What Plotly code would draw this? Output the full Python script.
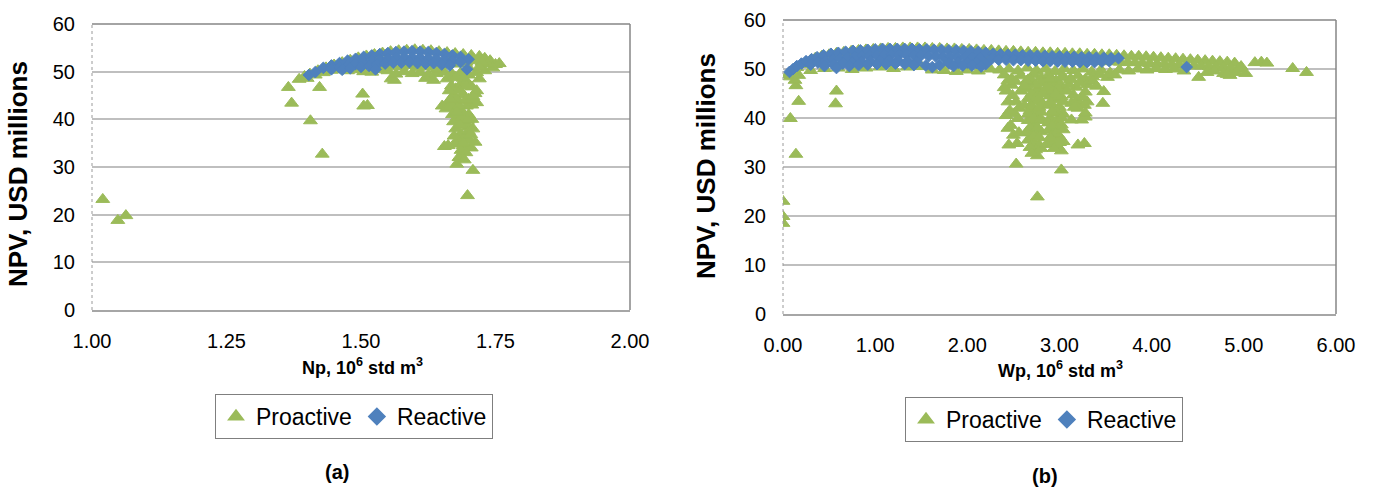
import plotly.graph_objects as go

# ---------------- Data: panel (a)  Np (10^6 std m3) vs NPV (USD millions) ----------------
proactive_a = [
    (1.020, 23.2), (1.048, 18.8), (1.063, 19.8), (1.365, 46.7), (1.371, 43.4), (1.406, 39.7),
    (1.423, 46.7), (1.428, 32.7), (1.503, 45.3), (1.505, 42.8), (1.512, 42.9), (1.562, 48.2),
    (1.556, 48.5),
    (1.385, 48.4), (1.395, 49.0), (1.405, 49.5), (1.420, 50.2), (1.435, 50.8), (1.450, 51.4),
    (1.465, 51.9), (1.480, 52.4), (1.495, 52.9), (1.510, 53.3), (1.525, 53.6), (1.540, 53.9),
    (1.555, 54.2), (1.570, 54.4), (1.585, 54.5), (1.600, 54.6), (1.615, 54.5), (1.630, 54.4),
    (1.645, 54.2), (1.660, 54.0), (1.675, 53.8), (1.690, 53.6), (1.705, 53.4), (1.720, 53.2),
    (1.730, 52.8), (1.740, 52.3), (1.750, 51.5), (1.757, 51.7),
    (1.400, 48.6), (1.415, 49.3), (1.430, 49.8), (1.445, 50.3), (1.460, 50.5), (1.475, 50.2),
    (1.490, 50.4), (1.505, 50.0), (1.520, 49.9), (1.535, 50.4), (1.550, 50.2), (1.565, 49.5),
    (1.580, 50.0), (1.595, 49.6), (1.610, 49.8), (1.625, 49.3), (1.640, 49.6), (1.655, 49.9),
    (1.670, 49.4), (1.685, 49.7), (1.700, 49.3), (1.715, 49.8), (1.730, 50.2), (1.745, 50.8),
    (1.735, 51.6), (1.725, 52.0), (1.710, 52.3), (1.695, 52.0), (1.680, 51.6), (1.665, 52.1),
    (1.650, 51.5), (1.635, 51.2), (1.620, 51.0), (1.605, 50.9), (1.590, 51.3), (1.575, 51.0),
    (1.560, 51.1), (1.545, 51.4), (1.530, 51.2), (1.515, 51.5), (1.500, 51.3), (1.620, 48.6),
    (1.635, 48.2), (1.640, 50.5), (1.700, 50.8), (1.720, 51.0),
    (1.660, 48.5), (1.668, 47.0), (1.676, 46.4), (1.686, 47.4), (1.696, 48.0), (1.706, 46.8),
    (1.712, 45.4), (1.700, 44.2), (1.690, 45.2), (1.680, 44.0), (1.672, 45.0), (1.664, 43.5),
    (1.651, 42.8), (1.658, 42.2), (1.676, 42.5), (1.686, 41.8), (1.696, 42.8), (1.706, 43.0),
    (1.715, 43.5), (1.700, 41.0), (1.680, 40.2), (1.672, 39.5), (1.690, 39.0), (1.700, 38.5),
    (1.706, 40.0), (1.676, 38.0), (1.686, 37.0), (1.695, 36.5), (1.700, 35.5), (1.680, 35.8),
    (1.690, 34.5), (1.705, 34.0), (1.712, 35.2), (1.676, 34.8), (1.686, 33.5), (1.695, 33.0),
    (1.655, 34.3), (1.662, 34.5), (1.682, 32.0), (1.678, 30.6), (1.708, 29.3), (1.698, 24.0),
    (1.668, 43.0), (1.664, 46.0), (1.690, 48.6), (1.676, 48.8), (1.700, 37.5), (1.682, 42.8),
    (1.715, 46.0), (1.720, 48.5), (1.670, 41.0), (1.688, 40.5), (1.673, 36.5), (1.708, 38.0),
    (1.692, 31.5), (1.684, 46.0), (1.694, 44.0), (1.678, 41.5), (1.698, 39.8), (1.684, 38.8),
    (1.704, 36.8), (1.690, 35.0), (1.708, 44.8), (1.666, 44.2), (1.696, 47.0),
]

reactive_a = [
    (1.403, 49.3), (1.415, 49.9), (1.430, 50.8), (1.445, 51.3), (1.460, 51.8), (1.475, 52.3),
    (1.490, 52.7), (1.505, 53.1), (1.520, 53.4), (1.535, 53.7), (1.550, 53.9), (1.565, 54.1),
    (1.580, 54.2), (1.595, 54.3), (1.610, 54.2), (1.625, 54.1), (1.640, 53.9), (1.655, 53.7),
    (1.670, 53.4), (1.685, 53.1), (1.700, 52.6),
    (1.445, 50.5), (1.460, 50.9), (1.475, 51.3), (1.490, 51.6), (1.505, 52.0), (1.520, 52.3),
    (1.535, 52.5), (1.550, 52.7), (1.565, 52.9), (1.580, 53.0), (1.595, 53.0), (1.610, 52.9),
    (1.625, 52.8), (1.640, 52.6), (1.655, 52.4), (1.670, 52.2), (1.685, 52.0),
    (1.465, 50.4), (1.480, 50.7), (1.500, 51.0), (1.515, 51.2), (1.530, 51.5), (1.545, 51.7),
    (1.560, 51.9), (1.575, 51.9), (1.590, 52.0), (1.605, 51.8), (1.620, 51.7), (1.635, 51.8),
    (1.650, 51.5), (1.665, 51.3),
    (1.527, 50.5), (1.697, 50.5),
]

# ---------------- Data: panel (b)  Wp (10^6 std m3) vs NPV (USD millions) ----------------
proactive_b = [
    (0.00, 23.0), (0.00, 19.9), (0.00, 18.5), (0.08, 39.9), (0.14, 32.6), (0.17, 43.4),
    (0.14, 46.6), (0.13, 47.7), (0.17, 48.7), (0.08, 48.4), (0.58, 45.5), (0.57, 42.9),
    (0.05, 48.8), (0.10, 49.6), (0.15, 50.3), (0.20, 50.9), (0.25, 51.4), (0.30, 51.8),
    (0.35, 52.2), (0.42, 52.6), (0.50, 52.9), (0.58, 53.2), (0.66, 53.4), (0.74, 53.6),
    (0.82, 53.8), (0.90, 53.9), (0.98, 54.0), (1.06, 54.1), (1.14, 54.2), (1.22, 54.2),
    (1.30, 54.3), (1.38, 54.3), (1.46, 54.3), (1.54, 54.3), (1.62, 54.2), (1.70, 54.2),
    (1.78, 54.1), (1.86, 54.1), (1.94, 54.0), (2.02, 54.0), (2.10, 53.9), (2.18, 53.8),
    (2.26, 53.8), (2.34, 53.7), (2.42, 53.6), (2.50, 53.6), (2.58, 53.5), (2.66, 53.4),
    (2.74, 53.4), (2.82, 53.3), (2.90, 53.3), (2.98, 53.2), (3.06, 53.2), (3.14, 53.1),
    (3.22, 53.1), (3.30, 53.0), (3.38, 53.0), (3.46, 52.9), (3.54, 52.9), (3.62, 52.8),
    (3.70, 52.7), (3.78, 52.6), (3.86, 52.6), (3.94, 52.5), (4.02, 52.4), (4.10, 52.3),
    (4.18, 52.2), (4.26, 52.1), (4.34, 52.0), (4.42, 51.9), (4.50, 51.8), (4.58, 51.7),
    (4.66, 51.6), (4.74, 51.5), (4.82, 51.4), (4.90, 51.2), (4.97, 50.5),
    (2.22, 52.5), (2.30, 52.4), (2.38, 52.3), (2.46, 52.2), (2.54, 52.1), (2.62, 52.0),
    (2.70, 52.0), (2.78, 51.9), (2.86, 51.9), (2.94, 51.8), (3.02, 51.8), (3.10, 51.7),
    (3.18, 51.7), (3.26, 51.6), (3.34, 51.6), (3.42, 51.5), (3.50, 51.5), (3.58, 51.5),
    (3.66, 51.4), (3.74, 51.3), (3.82, 51.3), (3.90, 51.2), (3.98, 51.1), (4.06, 51.0),
    (4.14, 51.0), (4.22, 50.9), (4.30, 50.8), (4.38, 50.7), (4.46, 50.6), (4.54, 50.6),
    (4.62, 50.5), (4.70, 50.4), (4.78, 50.3), (4.86, 50.2), (4.94, 50.0),
    (0.30, 49.7), (0.45, 50.1), (0.60, 50.2), (0.75, 49.9), (0.90, 50.2), (1.05, 50.4),
    (1.20, 50.1), (1.35, 50.4), (1.50, 50.5), (1.62, 49.8), (1.75, 49.7), (1.88, 49.5),
    (2.00, 49.8), (2.12, 49.6), (2.25, 50.0), (2.35, 49.8), (2.45, 50.0), (2.55, 49.6),
    (2.65, 50.2), (2.75, 49.7), (2.85, 50.0), (2.95, 49.5), (3.05, 50.1), (3.15, 49.7),
    (3.25, 50.0), (3.35, 49.4), (3.45, 49.8), (3.55, 49.2), (3.65, 49.8), (3.75, 49.6),
    (3.85, 50.0), (3.95, 49.8), (4.05, 50.1), (4.15, 49.9), (4.25, 50.0), (4.35, 49.6),
    (4.51, 48.3), (4.60, 49.3), (4.68, 49.6), (4.78, 49.1), (4.85, 48.7), (4.82, 48.9),
    (4.92, 49.3), (5.02, 49.1),
    (2.40, 48.8), (2.48, 48.0), (2.58, 48.6), (2.66, 47.8), (2.72, 48.9), (2.80, 48.2),
    (2.88, 48.8), (2.96, 47.6), (3.04, 48.5), (3.12, 48.0), (3.20, 48.6), (3.28, 47.9),
    (3.36, 48.4), (3.44, 48.9), (3.52, 48.3), (3.60, 48.8),
    (5.12, 51.3), (5.19, 51.4), (5.25, 51.2), (5.53, 50.1), (5.68, 49.3),
    (2.48, 46.7), (2.52, 47.5), (2.44, 43.3), (2.53, 43.3), (2.49, 44.6), (2.51, 40.9),
    (2.55, 39.9), (2.44, 37.9), (2.47, 38.5), (2.45, 34.5), (2.54, 34.8), (2.53, 30.6),
    (2.56, 42.0), (2.58, 45.5), (2.42, 45.5), (2.46, 41.5), (2.50, 36.5), (2.56, 37.0),
    (2.42, 40.5), (2.44, 47.6), (2.40, 46.2),
    (2.64, 46.0), (2.70, 47.0), (2.76, 45.8), (2.80, 47.2), (2.66, 44.0), (2.72, 43.3),
    (2.78, 43.8), (2.82, 42.8), (2.68, 41.5), (2.74, 40.8), (2.80, 41.2), (2.66, 39.5),
    (2.72, 38.8), (2.78, 39.5), (2.70, 37.0), (2.76, 36.2), (2.80, 37.2), (2.66, 35.5),
    (2.72, 35.0), (2.78, 34.5), (2.74, 33.5), (2.76, 32.3), (2.76, 23.9), (2.62, 42.5),
    (2.84, 45.5), (2.68, 48.0), (2.74, 46.8), (2.64, 47.5), (2.70, 45.0), (2.76, 44.5),
    (2.82, 45.0), (2.70, 42.3), (2.78, 42.2), (2.66, 40.8), (2.72, 40.0), (2.80, 39.8),
    (2.68, 38.0), (2.76, 38.0), (2.64, 37.0), (2.72, 36.3), (2.78, 36.0), (2.68, 34.0),
    (2.80, 33.8), (2.70, 32.8), (2.62, 46.5),
    (2.88, 47.2), (2.94, 46.5), (3.00, 47.0), (3.04, 45.8), (2.90, 44.5), (2.96, 43.8),
    (3.02, 44.3), (2.88, 42.6), (2.94, 41.8), (3.00, 42.2), (3.04, 40.8), (2.90, 40.0),
    (2.96, 39.3), (3.02, 38.6), (2.88, 37.5), (2.94, 36.8), (3.00, 36.2), (3.04, 35.2),
    (2.92, 35.0), (2.98, 34.2), (3.02, 33.3), (2.86, 34.6), (3.02, 29.4), (2.90, 48.0),
    (2.98, 46.0), (3.02, 48.3), (2.92, 45.5), (2.96, 45.0), (3.04, 43.3), (2.90, 43.2),
    (2.98, 41.0), (2.92, 41.2), (3.02, 40.0), (2.88, 39.0), (2.98, 38.0), (2.92, 38.3),
    (2.96, 36.8), (3.04, 37.6), (2.90, 36.0), (3.00, 35.0), (2.94, 33.8), (2.86, 46.2),
    (3.13, 43.0), (3.18, 43.4), (3.22, 43.0), (3.27, 42.6), (3.30, 43.3), (3.15, 44.7),
    (3.25, 44.3), (3.13, 39.6), (3.24, 39.6), (3.28, 40.2), (3.20, 34.5), (3.27, 34.8),
    (3.18, 46.3), (3.10, 46.8), (3.48, 45.4), (3.47, 43.0), (3.20, 42.0), (3.28, 41.0),
    (3.16, 42.2), (3.08, 45.5), (3.12, 47.8), (3.22, 47.2), (3.30, 46.8), (3.36, 47.5),
    (3.40, 46.5), (3.28, 45.3),
]

reactive_b = [
    (0.07, 49.4), (0.11, 50.0), (0.15, 50.6), (0.20, 51.1), (0.25, 51.6), (0.31, 52.0),
    (0.37, 52.4), (0.44, 52.8), (0.52, 53.1), (0.60, 53.3), (0.68, 53.5), (0.76, 53.7),
    (0.84, 53.8), (0.92, 53.9), (1.00, 54.0), (1.08, 54.1), (1.16, 54.1), (1.24, 54.1),
    (1.32, 54.1), (1.40, 54.1), (1.48, 54.0), (1.56, 54.0), (1.64, 53.9), (1.72, 53.9),
    (1.80, 53.8), (1.88, 53.8), (1.96, 53.7), (2.04, 53.6), (2.12, 53.5), (2.20, 53.3),
    (2.28, 53.1), (2.36, 53.0), (2.44, 52.9), (2.52, 52.9), (2.60, 52.8), (2.68, 52.8),
    (2.76, 52.7), (2.84, 52.7), (2.92, 52.6), (3.00, 52.6), (3.08, 52.5), (3.16, 52.5),
    (3.24, 52.4), (3.32, 52.4), (3.40, 52.3), (3.48, 52.3), (3.56, 52.2), (3.64, 52.2),
    (0.30, 50.9), (0.38, 51.3), (0.46, 51.6), (0.54, 51.9), (0.62, 52.1), (0.70, 52.3),
    (0.78, 52.5), (0.86, 52.6), (0.94, 52.7), (1.02, 52.8), (1.10, 52.9), (1.18, 52.9),
    (1.26, 52.9), (1.34, 52.9), (1.42, 52.8), (1.50, 52.8), (1.58, 52.6), (1.66, 52.5),
    (1.74, 52.5), (1.82, 52.5), (1.90, 52.4), (1.98, 52.4), (2.06, 52.3), (2.14, 52.2),
    (2.26, 52.0), (2.34, 51.9), (2.42, 51.9), (2.50, 51.8), (2.58, 51.8), (2.66, 51.7),
    (2.74, 51.7), (2.82, 51.6), (2.90, 51.6), (2.98, 51.5), (3.06, 51.5), (3.14, 51.5),
    (3.22, 51.4), (3.30, 51.4), (3.38, 51.4), (3.46, 51.5), (3.54, 51.6),
    (0.45, 50.6), (0.55, 50.9), (0.65, 51.1), (0.75, 51.3), (0.85, 51.5), (0.95, 51.6),
    (1.05, 51.6), (1.15, 51.7), (1.25, 51.7), (1.35, 51.6), (1.45, 51.4), (1.55, 50.7),
    (1.62, 50.4), (1.70, 50.8), (1.80, 51.2), (1.90, 51.3), (2.00, 51.3), (2.10, 51.2),
    (2.20, 51.0), (0.58, 50.2),
    (0.72, 50.6), (0.82, 50.8), (0.92, 50.9), (1.02, 51.0), (1.12, 51.0), (1.22, 51.1),
    (1.32, 51.0), (1.42, 50.8), (1.85, 50.6), (1.95, 50.7), (2.05, 50.7), (2.15, 50.5),
    (4.38, 50.4),
]

series_names = ["Proactive", "Reactive"]
y_ticks = [0, 10, 20, 30, 40, 50, 60]
x_ticks_a = [1.00, 1.25, 1.50, 1.75, 2.00]
x_ticks_b = [0, 1, 2, 3, 4, 5, 6]

GREEN = "#9BBB59"
BLUE = "#4F81BD"
FONT = "Liberation Sans, Arial, sans-serif"


def unzip(pairs):
    return [p[0] for p in pairs], [p[1] for p in pairs]


fig = go.Figure()

for pairs, name, color, symbol, size, xa, ya, lg in [
    (proactive_a, series_names[0], GREEN, "triangle-up", 12, "x", "y", "legend"),
    (reactive_a, series_names[1], BLUE, "diamond", 9, "x", "y", "legend"),
    (proactive_b, series_names[0], GREEN, "triangle-up", 12, "x2", "y2", "legend2"),
    (reactive_b, series_names[1], BLUE, "diamond", 9, "x2", "y2", "legend2"),
]:
    xs, ys = unzip(pairs)
    fig.add_trace(go.Scatter(
        x=xs, y=ys, mode="markers", name=name,
        marker=dict(symbol=symbol, size=size, color=color, line=dict(width=1, color=color)),
        xaxis=xa, yaxis=ya, legend=lg, showlegend=True,
    ))

W, H = 1373, 488
# plot-area pixel boxes (left, right, top, bottom)
box_a = (92, 630, 24, 310)
box_b = (783, 1336, 20, 314)


def dom(box):
    l, r, t, b = box
    return [l / W, r / W], [1 - b / H, 1 - t / H]


xd_a, yd_a = dom(box_a)
xd_b, yd_b = dom(box_b)

tickfont = dict(family=FONT, size=20, color="#000000")
common_y = dict(range=[0, 60], tickvals=y_ticks, showgrid=True, gridcolor="#BFBFBF", gridwidth=1.5,
                zeroline=False, showline=False, ticks="", tickfont=tickfont, ticklabelstandoff=16,
                fixedrange=True, automargin=False)
common_x = dict(showgrid=False, zeroline=False, showline=True, linecolor="#A6A6A6", linewidth=1.5,
                ticks="", tickfont=tickfont, ticklabelstandoff=12, tickformat=".2f", fixedrange=True,
                automargin=False)

fig.update_layout(
    width=W, height=H,
    margin=dict(l=0, r=0, t=0, b=0, autoexpand=False),
    paper_bgcolor="white", plot_bgcolor="white",
    font=dict(family=FONT, color="#000000"),
    xaxis=dict(domain=xd_a, range=[1, 2], tickvals=x_ticks_a, anchor="y", **common_x),
    yaxis=dict(domain=yd_a, anchor="x", **common_y),
    xaxis2=dict(domain=xd_b, range=[0, 6], tickvals=x_ticks_b, anchor="y2", **common_x),
    yaxis2=dict(domain=yd_b, anchor="x2", **common_y),
    legend=dict(orientation="h", x=354 / W, xanchor="center", y=1 - 394 / H, yanchor="top",
                bordercolor="#7F7F7F", borderwidth=1, bgcolor="white",
                font=dict(family=FONT, size=23, color="#000000"), itemsizing="constant"),
    legend2=dict(orientation="h", x=1044 / W, xanchor="center", y=1 - 397 / H, yanchor="top",
                 bordercolor="#7F7F7F", borderwidth=1, bgcolor="white",
                 font=dict(family=FONT, size=23, color="#000000"), itemsizing="constant"),
)

# plot-area borders: solid top & right, dotted left
for xr, yr in [("x domain", "y domain"), ("x2 domain", "y2 domain")]:
    fig.add_shape(type="line", xref=xr, yref=yr, x0=0, x1=1, y0=1, y1=1,
                  line=dict(color="#868686", width=1.5))
    fig.add_shape(type="line", xref=xr, yref=yr, x0=1, x1=1, y0=0, y1=1,
                  line=dict(color="#868686", width=1.5))
    fig.add_shape(type="line", xref=xr, yref=yr, x0=0, x1=0, y0=0, y1=1,
                  line=dict(color="#9A9A9A", width=1, dash="dot"))

title_font = dict(family=FONT, size=26, color="#000000")
xt_font = dict(family=FONT, size=18, color="#000000")
ann = [
    dict(text="<b>NPV, USD millions</b>", x=18 / W, y=1 - 174 / H, textangle=-90, font=title_font),
    dict(text="<b>NPV, USD millions</b>", x=706 / W, y=1 - 166 / H, textangle=-90, font=title_font),
    dict(text="<b>Np, 10<sup>6</sup> std m<sup>3</sup></b>", x=362 / W, y=1 - 366 / H, font=xt_font),
    dict(text="<b>Wp, 10<sup>6</sup> std m<sup>3</sup></b>", x=1060 / W, y=1 - 369 / H, font=xt_font),
    dict(text="<b>(a)</b>", x=337 / W, y=1 - 472 / H, font=dict(family=FONT, size=20, color="#000000")),
    dict(text="<b>(b)</b>", x=1045 / W, y=1 - 476 / H, font=dict(family=FONT, size=20, color="#000000")),
]
for a in ann:
    fig.add_annotation(xref="paper", yref="paper", showarrow=False, xanchor="center",
                       yanchor="middle", **a)

fig.write_html("out.html")
